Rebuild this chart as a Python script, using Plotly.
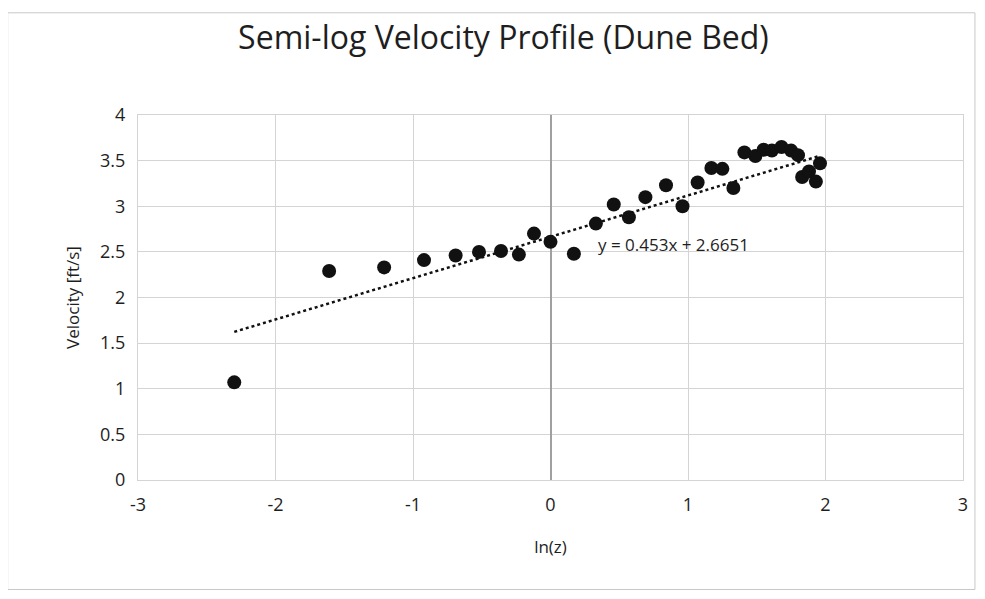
import plotly.graph_objects as go

LN_Z = [-2.30, -1.61, -1.21, -0.92, -0.69, -0.52, -0.36, -0.23, -0.12, 0.00,
        0.17, 0.33, 0.46, 0.57, 0.69, 0.84, 0.96, 1.07, 1.17, 1.25,
        1.33, 1.41, 1.49, 1.55, 1.61, 1.68, 1.75, 1.80, 1.83, 1.88,
        1.93, 1.96]
VELOCITY = [1.07, 2.29, 2.33, 2.41, 2.46, 2.50, 2.51, 2.47, 2.70, 2.61,
            2.48, 2.81, 3.02, 2.88, 3.10, 3.23, 3.00, 3.26, 3.42, 3.41,
            3.20, 3.59, 3.55, 3.62, 3.61, 3.65, 3.61, 3.56, 3.32, 3.38,
            3.27, 3.47]

# linear trendline as printed on the chart
SLOPE = 0.453
INTERCEPT = 2.6651

X_TICKS = [-3, -2, -1, 0, 1, 2, 3]
X_LABELS = ["-3", "-2", "-1", "0", "1", "2", "3"]
Y_TICKS = [0, 0.5, 1, 1.5, 2, 2.5, 3, 3.5, 4]

FONT = "Open Sans, Noto Sans, sans-serif"
INK = "#1e1e1e"
GRID = "#d4d4d4"

trend_x = [min(LN_Z), max(LN_Z)]
trend_y = [SLOPE * x + INTERCEPT for x in trend_x]

fig = go.Figure()
fig.add_trace(go.Scatter(
    x=trend_x, y=trend_y, mode="lines",
    line=dict(color="#111111", width=2.5, dash="dot"),
    hoverinfo="skip", showlegend=False,
))
fig.add_trace(go.Scatter(
    x=LN_Z, y=VELOCITY, mode="markers",
    marker=dict(size=14, color="#111111"),
    hovertemplate="ln(z) = %{x:.2f}<br>V = %{y:.2f} ft/s<extra></extra>",
    showlegend=False,
))

fig.add_annotation(
    x=0.33, y=2.58, xref="x", yref="y",
    text=f"y = {SLOPE}x + {INTERCEPT}",
    showarrow=False, xanchor="left", yanchor="middle",
    font=dict(family=FONT, size=17, color=INK),
)

# outer chart frame (Excel-style chart area border)
fig.add_shape(type="rect", xref="paper", yref="paper",
              x0=-0.158, x1=1.0145, y0=-0.30, y1=1.28,
              line=dict(color="#c8c8c8", width=1), layer="below")

fig.update_layout(
    width=985, height=599,
    plot_bgcolor="white", paper_bgcolor="white",
    margin=dict(l=130, r=30, t=107, b=127),
    font=dict(family=FONT, color=INK, size=17),
    title=dict(text="Semi-log Velocity Profile (Dune Bed)",
               x=0.503, xref="container", xanchor="center",
               y=0.95, yref="container", yanchor="middle",
               font=dict(family=FONT, size=32, color=INK)),
)
fig.update_xaxes(
    range=[-3, 3], tickvals=X_TICKS, ticktext=X_LABELS,
    showgrid=True, gridcolor=GRID,
    zeroline=True, zerolinecolor="#a0a0a0", zerolinewidth=1.5,
    showline=True, linecolor=GRID, mirror=True,
    ticks="", ticklabelstandoff=8, tickfont=dict(size=18),
    title=dict(text="ln(z)", font=dict(size=17), standoff=26),
)
fig.update_yaxes(
    range=[0, 4], tickvals=Y_TICKS, showgrid=True, gridcolor=GRID,
    zeroline=True, zerolinecolor="#a0a0a0", zerolinewidth=1.5,
    showline=True, linecolor=GRID, mirror=True,
    ticks="", ticklabelstandoff=8, tickfont=dict(size=18),
    title=dict(text="Velocity [ft/s]", font=dict(size=17), standoff=16),
)

fig.write_html("out.html")
